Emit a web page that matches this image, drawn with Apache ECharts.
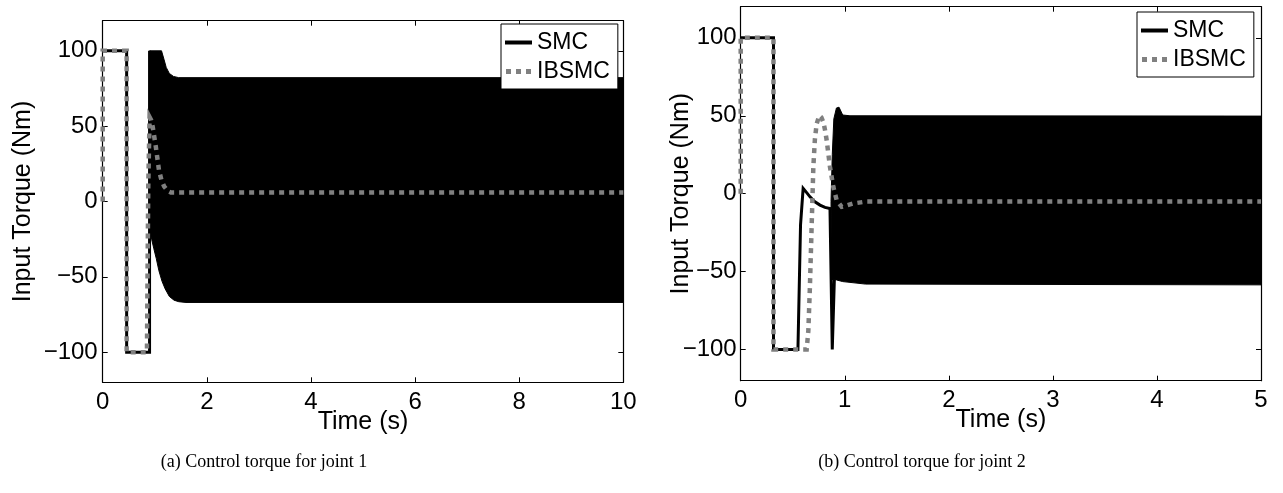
<!DOCTYPE html>
<html><head><meta charset="utf-8">
<script src="https://cdn.jsdelivr.net/npm/echarts@6/dist/echarts.min.js"></script>
<style>html,body{margin:0;padding:0;background:#fff}#c{width:1283px;height:493px}</style>
</head><body><div id="c"></div>
<script>
// ---------- data (time in s, torque in Nm) ----------
const seriesNames = ['SMC', 'IBSMC'];
const yTicks = [-100, -50, 0, 50, 100];
const xTicks1 = [0, 2, 4, 6, 8, 10];
const xTicks2 = [0, 1, 2, 3, 4, 5];
const captions = ['(a) Control torque for joint 1', '(b) Control torque for joint 2'];

// joint 1
const smc1 = [[0,100],[0.46,100],[0.46,-100],[0.9,-100],[0.9,100]];
const smc1Upper = [[0.9,100],[1.13,100],[1.18,94],[1.22,89],[1.28,85],[1.36,83],[1.46,82.2],[10,82.2]];
const smc1Lower = [[0.9,-100],[0.91,-22],[0.94,-25],[0.98,-31],[1.03,-38],[1.08,-46],[1.14,-53],[1.2,-58],[1.28,-63],[1.37,-65.5],[1.46,-66.5],[1.6,-67],[10,-67]];
const ibsmc1 = [[0,0],[0,100],[0.46,100],[0.46,-100],[0.85,-100],[0.875,10],[0.9,56],[0.93,54],[0.96,49.7],[1.02,36.4],[1.08,21],[1.13,14],[1.18,10],[1.25,7],[1.31,6],[1.5,6],[10,6]];

// joint 2
const smc2 = [[0,100],[0.315,100],[0.315,-100],[0.55,-100],[0.575,-20],[0.6,3.4],[0.63,1],[0.666,-2],[0.71,-5],[0.762,-7.3],[0.81,-8.8],[0.858,-9.5],[0.87,-10],[0.88,-100],[0.89,-100],[0.9,-55]];
const smc2Upper = [[0.868,-5],[0.88,25],[0.895,48],[0.92,55],[0.945,55.5],[0.98,50.5],[1.05,50],[5,49.8]];
const smc2Lower = [[0.868,-5],[0.872,-55],[0.92,-55.3],[0.98,-56.4],[1.2,-58],[5,-58.5]];
const ibsmc2 = [[0,0],[0,100],[0.315,100],[0.315,-100],[0.634,-100],[0.65,-88],[0.665,-60],[0.68,-25],[0.698,17],[0.713,35],[0.73,44.8],[0.755,50.2],[0.775,49],[0.794,46],[0.81,41],[0.826,34.4],[0.858,17.2],[0.89,4.4],[0.922,-4.1],[0.97,-8.4],[1.02,-7.5],[1.08,-6.3],[1.21,-5],[5,-5]];

// ---------- styling ----------
const SANS = 'Liberation Sans';
const fmtY = v => (v < 0 ? '\u2212' + Math.abs(v) : String(v));

function xAxes(gi, max, ticks) {
  const common = {type:'value', gridIndex:gi, min:0, max:max,
    axisLine:{show:true, onZero:false, lineStyle:{color:'#000', width:1.2}},
    splitLine:{show:false}};
  return [
    Object.assign({}, common, {position:'bottom',
      axisTick:{show:true, inside:true, length:5, customValues:ticks, lineStyle:{color:'#000'}},
      axisLabel:{customValues:ticks, fontSize:24, fontFamily:SANS, color:'#000', margin:8},
      name:'Time (s)', nameLocation:'middle', nameGap:27, nameMoveOverlap:false,
      nameTextStyle:{fontSize:25, fontFamily:SANS, color:'#000'}}),
    Object.assign({}, common, {position:'top',
      axisTick:{show:true, inside:true, length:5, customValues:ticks, lineStyle:{color:'#000'}},
      axisLabel:{show:false}})
  ];
}
function yAxes(gi, gap, labelMargin) {
  const common = {type:'value', gridIndex:gi, min:-120, max:120,
    axisLine:{show:true, onZero:false, lineStyle:{color:'#000', width:1.2}},
    splitLine:{show:false}};
  return [
    Object.assign({}, common, {position:'left',
      axisTick:{show:true, inside:true, length:5, customValues:yTicks, lineStyle:{color:'#000'}},
      axisLabel:{customValues:yTicks, formatter:fmtY, fontSize:24, fontFamily:SANS, color:'#000', margin:labelMargin},
      name:'Input Torque (Nm)', nameLocation:'middle', nameRotate:90, nameGap:gap, nameMoveOverlap:false,
      nameTextStyle:{fontSize:25, fontFamily:SANS, color:'#000'}}),
    Object.assign({}, common, {position:'right',
      axisTick:{show:true, inside:true, length:5, customValues:yTicks, lineStyle:{color:'#000'}},
      axisLabel:{show:false}})
  ];
}
function lineSeries(name, data, xi, yi, color, width, dash, z) {
  return {type:'line', name:name, data:data, xAxisIndex:xi, yAxisIndex:yi,
    symbol:'none', animation:false, z:z, clip:true, itemStyle:{color:color},
    lineStyle:{color:color, width:width, type:dash || 'solid', cap:'butt', join:'miter'}};
}
function bandSeries(upper, lower, xi, yi) {
  return {type:'custom', name:'SMC band', xAxisIndex:xi, yAxisIndex:yi,
    data:[[upper[0][0], upper[0][1]]], animation:false, clip:true, z:2, silent:true,
    renderItem:function(params, api) {
      const pts = upper.map(p => api.coord(p));
      for (let i = lower.length - 1; i >= 0; i--) pts.push(api.coord(lower[i]));
      return {type:'polygon', shape:{points:pts}, style:{fill:'#000', stroke:'#000', lineWidth:1}};
    }};
}
function legendAt(left, top) {
  return {left:left, top:top, orient:'vertical', selectedMode:false,
    data:[
      {name:seriesNames[0], icon:'path://M0,0h27v4h-27z', itemStyle:{color:'#000'}},
      {name:seriesNames[1], icon:'path://M0,0h5v5h-5zM10,0h5v5h-5zM20,0h5v5h-5z', itemStyle:{color:'#808080'}}
    ],
    backgroundColor:'#fff', borderColor:'#000', borderWidth:1, borderRadius:0,
    padding:[7,8,6,4], itemGap:6, itemWidth:27, itemHeight:5,
    textStyle:{fontSize:23, fontFamily:SANS, color:'#000'}};
}

const option = {
  backgroundColor:'#fff',
  animation:false,
  grid:[
    {left:102.7, top:20.7, width:520.6, height:361.6},
    {left:740.7, top:6.7, width:520.3, height:374}
  ],
  xAxis:[...xAxes(0, 10, xTicks1), ...xAxes(1, 5, xTicks2)],
  yAxis:[...yAxes(0, 67, 5), ...yAxes(1, 47, 4)],
  legend:[legendAt(501, 24), legendAt(1137, 12)],
  title:[
    {text:captions[0], left:259, top:448, textAlign:'center',
     textStyle:{fontFamily:'Liberation Serif', fontSize:18, fontWeight:'normal', color:'#000'}},
    {text:captions[1], left:917, top:448, textAlign:'center',
     textStyle:{fontFamily:'Liberation Serif', fontSize:18, fontWeight:'normal', color:'#000'}}
  ],
  series:[
    lineSeries(seriesNames[0], smc1, 0, 0, '#000', 3, null, 2),
    bandSeries(smc1Upper, smc1Lower, 0, 0),
    lineSeries(seriesNames[1], ibsmc1, 0, 0, '#808080', 4.5, [5,5], 3),
    lineSeries(seriesNames[0], smc2, 2, 2, '#000', 3, null, 2),
    bandSeries(smc2Upper, smc2Lower, 2, 2),
    lineSeries(seriesNames[1], ibsmc2, 2, 2, '#808080', 4.5, [5,5], 3)
  ]
};
const chart = echarts.init(document.getElementById('c'), null, {renderer:'canvas'});
chart.setOption(option);
</script></body></html>
